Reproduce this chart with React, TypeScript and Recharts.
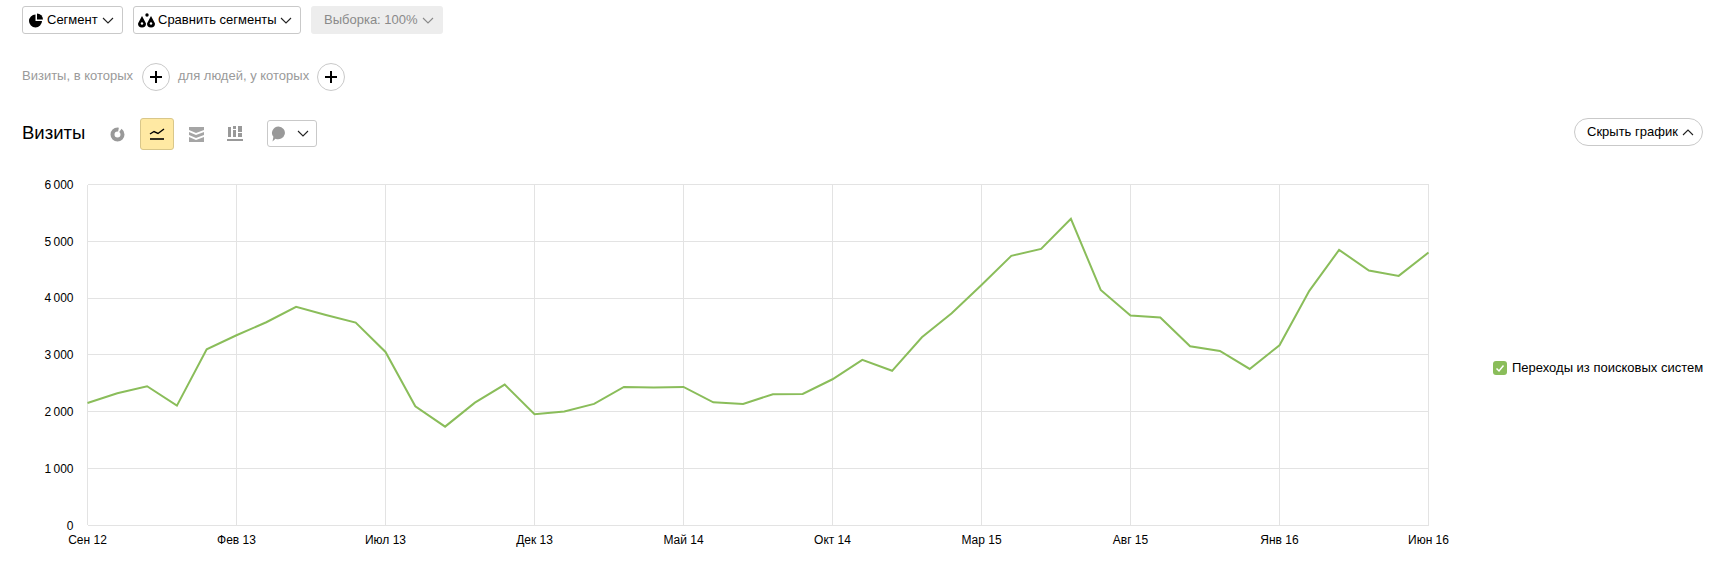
import React from "react";
import { LineChart, Line, XAxis, YAxis, CartesianGrid, Legend } from "recharts";

const months = [
  "Сен 12", "Окт 12", "Ноя 12", "Дек 12",
  "Янв 13", "Фев 13", "Мар 13", "Апр 13", "Май 13", "Июн 13", "Июл 13", "Авг 13", "Сен 13", "Окт 13", "Ноя 13", "Дек 13",
  "Янв 14", "Фев 14", "Мар 14", "Апр 14", "Май 14", "Июн 14", "Июл 14", "Авг 14", "Сен 14", "Окт 14", "Ноя 14", "Дек 14",
  "Янв 15", "Фев 15", "Мар 15", "Апр 15", "Май 15", "Июн 15", "Июл 15", "Авг 15", "Сен 15", "Окт 15", "Ноя 15", "Дек 15",
  "Янв 16", "Фев 16", "Мар 16", "Апр 16", "Май 16", "Июн 16",
];

const visits = [
  2154, 2325, 2448, 2107,
  3099, 3346, 3575, 3845, 3704, 3569, 3052, 2096, 1737, 2160, 2477, 1955,
  2002, 2137, 2436, 2424, 2436, 2166, 2137, 2307, 2313, 2571, 2912, 2720,
  3311, 3733, 4232, 4743, 4866, 5395, 4144, 3692, 3657, 3152, 3070, 2753,
  3170, 4127, 4849, 4485, 4391, 4802,
];

const yTicks = [0, 1000, 2000, 3000, 4000, 5000, 6000];
const seriesName = "Переходы из поисковых систем";

const GREEN = "#8abd5a";
const GRID = "#e3e3e3";
const FONT = '"Liberation Sans", Arial, sans-serif';

const chartData = months.map((month, i) => ({ month, visits: visits[i] }));

const formatThousands = (v: number) =>
  v >= 1000 ? `${Math.floor(v / 1000)}\u2009${String(v % 1000).padStart(3, "0")}` : String(v);

const Chevron = ({ x, y, up = false, color = "#222", w = 12 }: any) => (
  <svg style={{ position: "absolute", left: x, top: y }} width={w} height={7} viewBox="0 0 12 7">
    <path d={up ? "M1 6L6 1L11 6" : "M1 1L6 6L11 1"} fill="none" stroke={color} strokeWidth={1.1} />
  </svg>
);

const Box = ({ x, y, w, h, children, style }: any) => (
  <div
    style={{
      position: "absolute",
      left: x,
      top: y,
      width: w,
      height: h,
      boxSizing: "border-box",
      border: "1px solid #c9c9c9",
      borderRadius: 3,
      ...style,
    }}
  >
    {children}
  </div>
);

const Label = ({ x, y, size = 13, color = "#000", children }: any) => (
  <span
    style={{
      position: "absolute",
      left: x,
      top: y,
      fontSize: size,
      lineHeight: "16px",
      color,
      whiteSpace: "nowrap",
    }}
  >
    {children}
  </span>
);

const Plus = ({ cx }: { cx: number }) => (
  <svg style={{ position: "absolute", left: cx - 15, top: 62 }} width={30} height={30}>
    <circle cx={15} cy={15} r={13.5} fill="#fff" stroke="#c9c9c9" />
    <path d="M15 9V21M9 15H21" stroke="#000" strokeWidth={2} />
  </svg>
);

const Icon = ({ x, y, w, h, children }: any) => (
  <svg style={{ position: "absolute", left: x, top: y }} width={w} height={h} viewBox={`0 0 ${w} ${h}`}>
    {children}
  </svg>
);

const Toolbar = () => (
  <>
    <Box x={22} y={6} w={101} h={28} />
    <Icon x={29} y={13} w={15} h={15}>
      <path d="M6.5 1.5A6.5 6.5 0 1 0 13 8H6.5Z" fill="#000" />
      <path d="M8 0.5A6 6 0 0 1 14 6.5H8Z" fill="#000" />
    </Icon>
    <Label x={47} y={12}>Сегмент</Label>
    <Chevron x={102} y={17} />

    <Box x={133} y={6} w={168} h={28} />
    <Icon x={138} y={13} w={18} h={15}>
      <path d="M4 3L8 10.5A4 4 0 0 1 0 10.5Z" fill="#000" />
      <path d="M13 3L17 10.5A4 4 0 0 1 9 10.5Z" fill="#000" />
      <circle cx={9} cy={2} r={1.7} fill="#000" />
      <circle cx={4} cy={10.5} r={1.2} fill="#fff" />
      <circle cx={13} cy={10.5} r={1.2} fill="#fff" />
    </Icon>
    <Label x={158} y={12}>Сравнить сегменты</Label>
    <Chevron x={280} y={17} />

    <Box x={311} y={6} w={132} h={28} style={{ background: "#ededed", border: "none" }} />
    <Label x={324} y={12} color="#8a8a8a">Выборка: 100%</Label>
    <Chevron x={422} y={17} color="#8a8a8a" />

    <Label x={22} y={68} color="#9a9a9a">Визиты, в которых</Label>
    <Plus cx={156} />
    <Label x={178} y={68} color="#9a9a9a">для людей, у которых</Label>
    <Plus cx={331} />

    <span style={{ position: "absolute", left: 22, top: 122, fontSize: 18.5, lineHeight: "22px", color: "#000" }}>
      Визиты
    </span>

    <Icon x={110} y={127} w={15} h={15}>
      <circle cx={7.5} cy={7.5} r={5} fill="none" stroke="#999" strokeWidth={4} strokeDasharray="24 2 5 2" />
    </Icon>

    <Box x={140} y={118} w={34} h={32} style={{ background: "#ffe9a3", border: "1px solid #d9c78a" }} />
    <Icon x={149} y={127} w={16} h={15}>
      <path d="M1 7L5 4.5L9 6.5L15 2" fill="none" stroke="#000" strokeWidth={1.4} />
      <path d="M1 12H15" stroke="#000" strokeWidth={1.6} />
    </Icon>

    <Icon x={189} y={127} w={15} h={15}>
      <path d="M0 0H15V3L7 6L0 3Z" fill="#a5a5a5" />
      <path d="M0 5L7 8L15 5V8L7 11L0 8Z" fill="#a5a5a5" />
      <path d="M0 10L7 13L15 10V15H0Z" fill="#a5a5a5" />
    </Icon>

    <Icon x={227} y={126} w={16} h={16}>
      <path d="M1 1H4V11H1ZM6 4H9V11H6ZM6 0H9V3H6ZM11 0H15V6H11ZM11 7H15V11H11Z" fill="#999" />
      <path d="M0 13H16V15H0Z" fill="#999" />
    </Icon>

    <Box x={267} y={120} w={50} h={27} />
    <Icon x={271} y={126} w={15} h={17}>
      <path d="M7.5 0.5A6.8 6.4 0 1 1 4.5 12.8L1.5 15.5L2.4 10.8A6.8 6.4 0 0 1 7.5 0.5Z" fill="#999" />
    </Icon>
    <Chevron x={297} y={130} />

    <Box x={1574} y={118} w={129} h={28} style={{ borderRadius: 14 }} />
    <Label x={1587} y={124}>Скрыть график</Label>
    <Chevron x={1682} y={129} up />
  </>
);

const LegendRow = () => (
  <div style={{ width: 212, height: 16, position: "relative", fontFamily: FONT }}>
    <svg style={{ position: "absolute", left: 0, top: 1 }} width={14} height={14}>
      <rect width={14} height={14} rx={3} fill={GREEN} />
      <path d="M3.5 7.5L6 10L10.5 4.5" fill="none" stroke="#fff" strokeWidth={1.5} />
    </svg>
    <span style={{ position: "absolute", left: 19, top: 0, fontSize: 13, lineHeight: "16px", color: "#000", whiteSpace: "nowrap" }}>
      {seriesName}
    </span>
  </div>
);

export default function App() {
  return (
    <div
      style={{
        position: "absolute",
        left: 0,
        top: 0,
        width: 1715,
        height: 574,
        overflow: "hidden",
        background: "#fff",
        fontFamily: FONT,
      }}
    >
      <LineChart
        width={1715}
        height={574}
        data={chartData}
        margin={{ top: 184.5, right: 74.5, bottom: 18.7, left: 27.5 }}
      >
        <CartesianGrid stroke={GRID} strokeWidth={1} shapeRendering="crispEdges" />
        <XAxis
          dataKey="month"
          interval={4}
          height={30}
          axisLine={false}
          tickLine={false}
          tickMargin={4}
          tick={{ fontSize: 12, fill: "#000", fontFamily: FONT }}
        />
        <YAxis
          domain={[0, 6000]}
          ticks={yTicks}
          width={60}
          axisLine={false}
          tickLine={false}
          tickMargin={8}
          tickFormatter={formatThousands}
          tick={{ fontSize: 12, fill: "#000", fontFamily: FONT }}
        />
        <Legend
          layout="vertical"
          align="right"
          verticalAlign="top"
          wrapperStyle={{ left: 1493, right: "auto", top: 360, width: 212 }}
          content={() => <LegendRow />}
        />
        <Line
          type="linear"
          dataKey="visits"
          name={seriesName}
          stroke={GREEN}
          strokeWidth={2}
          dot={false}
          isAnimationActive={false}
        />
      </LineChart>
      <Toolbar />
    </div>
  );
}
